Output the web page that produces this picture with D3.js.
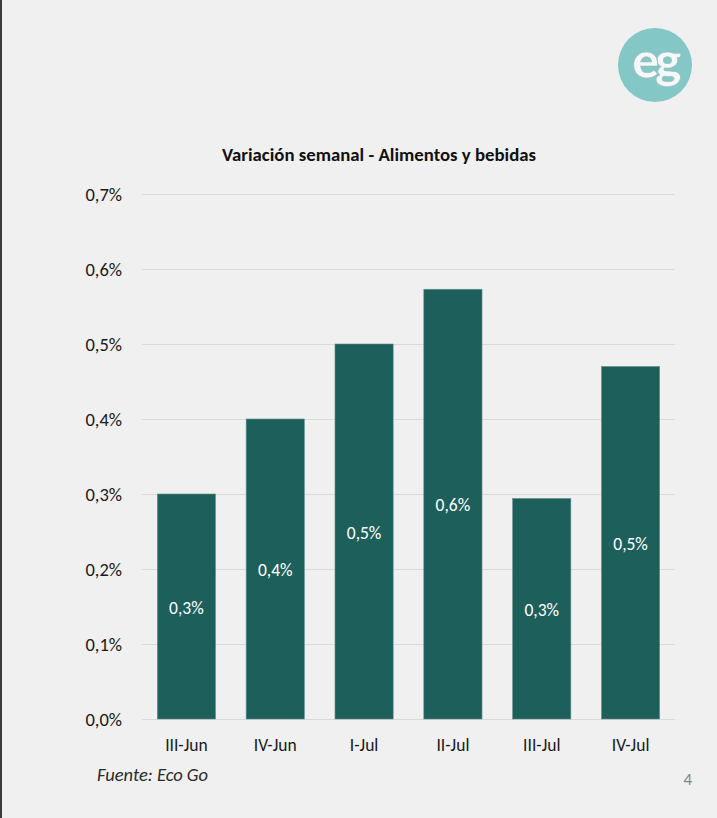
<!DOCTYPE html>
<html>
<head>
<meta charset="utf-8">
<script src="https://cdn.jsdelivr.net/npm/d3@7"></script>
<style>
  body { margin: 0; background: #f0f0f0; }
  svg { display: block; }
</style>
</head>
<body>
<script>
// ====================================================================
// data
var categories = ["III-Jun", "IV-Jun", "I-Jul", "II-Jul", "III-Jul", "IV-Jul"];
var values = [0.30, 0.40, 0.50, 0.573, 0.294, 0.47];
var value_labels = ["0,3%", "0,4%", "0,5%", "0,6%", "0,3%", "0,5%"];
var y_ticks = [0, 0.1, 0.2, 0.3, 0.4, 0.5, 0.6, 0.7];

// ====================================================================
// globals
var str_font = "Carlito, Lato, 'DejaVu Sans', sans-serif";
var str_bar_color = "#1d5f5b";
var str_grid_color = "#d9d9d9";

var svg_width = 717, svg_height = 818;
var margin = {top: 194, left: 142, right: 42, bottom: 99};
var width = svg_width - margin.left - margin.right,
    height = svg_height - margin.top - margin.bottom;

var svg = d3.select("body").append("svg")
  .attr("width", svg_width)
  .attr("height", svg_height)
  .style("font-family", str_font);

svg.append("rect")
  .attr("width", svg_width).attr("height", svg_height)
  .attr("fill", "#f0f0f0");

// dark strip at left edge
svg.append("rect")
  .attr("x", 0).attr("y", 0)
  .attr("width", 2).attr("height", svg_height)
  .attr("fill", "#3a3a3a");

// logo
var logo = svg.append("g").attr("transform", "translate(655,65)");
logo.append("circle").attr("r", 37).attr("fill", "#83c8c7");
logo.append("text")
  .attr("text-anchor", "middle")
  .attr("y", 13)
  .style("font-family", "Lato, 'Open Sans', sans-serif")
  .style("font-weight", "900")
  .style("font-size", "50px")
  .style("letter-spacing", "-4px")
  .attr("fill", "#f4f8f8")
  .attr("stroke", "#9ab9b8")
  .attr("stroke-width", 0.6)
  .text("eg");

// title
svg.append("text")
  .attr("x", 379).attr("y", 161)
  .attr("text-anchor", "middle")
  .style("font-size", "18.8px")
  .style("font-weight", "bold")
  .attr("fill", "#111")
  .text("Variación semanal - Alimentos y bebidas");

var g = svg.append("g")
  .attr("transform", "translate(" + margin.left + "," + margin.top + ")");

// ====================================================================
// scales
var x = d3.scaleBand()
  .domain(categories)
  .range([0, width])
  .paddingInner(0.345)
  .paddingOuter(0.1725);

var y = d3.scaleLinear()
  .domain([0, 0.7])
  .range([height, 0]);

// gridlines
g.append("g")
  .selectAll("line")
  .data(y_ticks)
  .enter()
  .append("line")
  .attr("x1", 0).attr("x2", width)
  .attr("y1", function(d) { return y(d) + 0.5; })
  .attr("y2", function(d) { return y(d) + 0.5; })
  .attr("stroke", str_grid_color)
  .attr("stroke-width", 1);

// y axis labels
var y_axis = g.append("g")
  .call(d3.axisLeft(y).tickValues(y_ticks).tickSize(0)
    .tickFormat(function(d) { return d3.format(".1f")(d).replace(".", ",") + "%"; }));
y_axis.select(".domain").remove();
y_axis.selectAll("text")
  .attr("dx", "-17px")
  .attr("dy", "0.36em")
  .style("font-family", str_font)
  .style("font-size", "18.5px")
  .attr("fill", "#1a1a1a");

// x axis labels
var x_axis = g.append("g")
  .attr("transform", "translate(0," + height + ")")
  .call(d3.axisBottom(x).tickSize(0));
x_axis.select(".domain").remove();
x_axis.selectAll("text")
  .attr("dy", "1.65em")
  .style("font-family", str_font)
  .style("font-size", "17.5px")
  .attr("fill", "#1a1a1a");

// bars
var bars = g.append("g")
  .selectAll("rect")
  .data(categories)
  .enter()
  .append("rect")
  .attr("x", function(d) { return x(d); })
  .attr("y", function(d, i) { return y(values[i]); })
  .attr("width", x.bandwidth())
  .attr("height", function(d, i) { return height - y(values[i]); })
  .attr("fill", str_bar_color)
  .attr("stroke", "#5f8f8c")
  .attr("stroke-width", 0.6);

// value labels
g.append("g")
  .selectAll("text")
  .data(categories)
  .enter()
  .append("text")
  .attr("x", function(d) { return x(d) + x.bandwidth() / 2; })
  .attr("y", function(d, i) { return (y(values[i]) + height) / 2; })
  .attr("dy", "0.4em")
  .attr("text-anchor", "middle")
  .style("font-size", "17.5px")
  .attr("fill", "#ffffff")
  .text(function(d, i) { return value_labels[i]; });

// source
svg.append("text")
  .attr("x", 97).attr("y", 781)
  .style("font-size", "18.5px")
  .style("font-style", "italic")
  .attr("fill", "#2a2a2a")
  .text("Fuente: Eco Go");

// page number
svg.append("text")
  .attr("x", 692).attr("y", 785)
  .attr("text-anchor", "end")
  .style("font-size", "17px")
  .attr("fill", "#888")
  .text("4");
</script>
</body>
</html>
